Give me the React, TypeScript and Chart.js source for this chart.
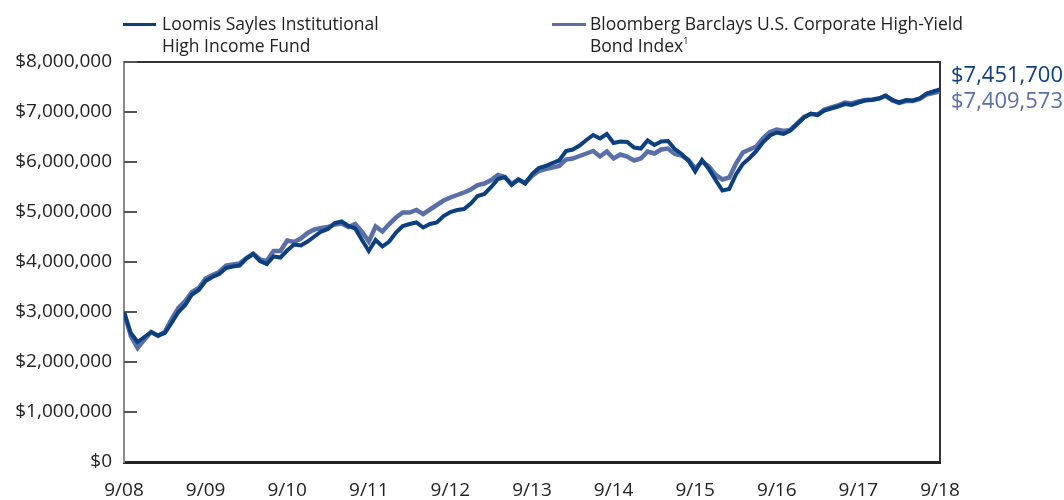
import React, { useEffect, useRef } from "react";
import { Chart, registerables } from "chart.js";

Chart.register(...registerables);

const FONT = "'Open Sans', 'Noto Sans', sans-serif";

const xTickLabels = ["9/08", "9/09", "9/10", "9/11", "9/12", "9/13", "9/14", "9/15", "9/16", "9/17", "9/18"];

const seriesNames = ["Loomis Sayles Institutional High Income Fund", "Bloomberg Barclays U.S. Corporate High-Yield Bond Index"];

const fundValues = [
  3000000, 2580000, 2400000, 2500000, 2600000, 2530000, 2580000, 2780000, 3000000, 3140000, 3350000, 3440000,
  3620000, 3700000, 3760000, 3880000, 3910000, 3930000, 4070000, 4160000, 4020000, 3960000, 4110000, 4090000,
  4230000, 4350000, 4330000, 4410000, 4510000, 4610000, 4660000, 4780000, 4810000, 4720000, 4670000, 4440000,
  4220000, 4440000, 4310000, 4410000, 4590000, 4720000, 4760000, 4790000, 4690000, 4760000, 4790000, 4920000,
  5000000, 5040000, 5060000, 5170000, 5320000, 5360000, 5500000, 5660000, 5700000, 5540000, 5650000, 5570000,
  5760000, 5880000, 5920000, 5980000, 6030000, 6220000, 6250000, 6330000, 6440000, 6540000, 6470000, 6560000,
  6380000, 6410000, 6400000, 6290000, 6270000, 6430000, 6340000, 6410000, 6420000, 6260000, 6160000, 6030000,
  5810000, 6040000, 5860000, 5640000, 5430000, 5460000, 5750000, 5960000, 6080000, 6220000, 6400000, 6530000,
  6590000, 6560000, 6630000, 6760000, 6890000, 6970000, 6940000, 7030000, 7070000, 7110000, 7160000, 7140000,
  7190000, 7230000, 7240000, 7270000, 7330000, 7240000, 7190000, 7240000, 7230000, 7270000, 7370000, 7410000,
  7451700,
];

const indexValues = [
  3000000, 2520000, 2280000, 2450000, 2600000, 2520000, 2600000, 2860000, 3080000, 3220000, 3400000, 3480000,
  3670000, 3740000, 3800000, 3930000, 3950000, 3970000, 4080000, 4170000, 4050000, 4020000, 4220000, 4220000,
  4430000, 4400000, 4470000, 4580000, 4650000, 4680000, 4700000, 4750000, 4770000, 4700000, 4760000, 4600000,
  4410000, 4710000, 4610000, 4760000, 4890000, 4990000, 4990000, 5040000, 4960000, 5050000, 5140000, 5230000,
  5290000, 5340000, 5390000, 5450000, 5540000, 5570000, 5640000, 5740000, 5700000, 5560000, 5650000, 5580000,
  5720000, 5820000, 5860000, 5890000, 5920000, 6050000, 6070000, 6120000, 6170000, 6220000, 6110000, 6210000,
  6070000, 6150000, 6110000, 6030000, 6070000, 6210000, 6170000, 6250000, 6270000, 6160000, 6130000, 6040000,
  5870000, 6010000, 5910000, 5740000, 5650000, 5690000, 5970000, 6190000, 6250000, 6310000, 6480000, 6600000,
  6650000, 6620000, 6640000, 6770000, 6900000, 6960000, 6950000, 7050000, 7090000, 7130000, 7190000, 7170000,
  7210000, 7240000, 7250000, 7270000, 7320000, 7230000, 7180000, 7220000, 7220000, 7260000, 7350000, 7380000,
  7409573,
];

const FUND_COLOR = "#0b3f7e";
const INDEX_COLOR = "#5a6ea8";

const fmtDollar = (v: number) => "$" + Math.round(v).toLocaleString("en-US");

const frameAndTicks = {
  id: "frameAndTicks",
  beforeDatasetsDraw(chart: any) {
    const { ctx, chartArea } = chart;
    const { left, right, top, bottom } = chartArea;
    ctx.save();
    ctx.strokeStyle = "#333";
    ctx.lineWidth = 2;
    ctx.beginPath();
    ctx.moveTo(left, top);
    ctx.lineTo(right, top);
    ctx.lineTo(right, bottom);
    ctx.stroke();
    const y = chart.scales.y;
    ctx.strokeStyle = "#555";
    ctx.lineWidth = 2;
    y.ticks.forEach((t: any) => {
      if (t.value === 0) return;
      const py = Math.round(y.getPixelForValue(t.value));
      ctx.beginPath();
      ctx.moveTo(left, py);
      ctx.lineTo(left + 13, py);
      ctx.stroke();
    });
    ctx.restore();
  },
};

export default function App() {
  const ref = useRef<HTMLCanvasElement | null>(null);

  useEffect(() => {
    document.body.style.margin = "0";
    if (!ref.current) return;
    const chart = new Chart(ref.current, {
      type: "line",
      data: {
        datasets: [
          {
            label: seriesNames[0],
            data: fundValues.map((v, i) => ({ x: i, y: v })),
            borderColor: FUND_COLOR,
            borderWidth: 4,
            pointRadius: 0,
            tension: 0,
            order: 0,
            borderJoinStyle: "miter",
          },
          {
            label: seriesNames[1],
            data: indexValues.map((v, i) => ({ x: i, y: v })),
            borderColor: INDEX_COLOR,
            borderWidth: 4.5,
            pointRadius: 0,
            tension: 0,
            order: 1,
            borderJoinStyle: "miter",
          },
        ],
      },
      options: {
        animation: false,
        responsive: false,
        layout: { padding: { top: 62, right: 124, left: 0, bottom: 0 } },
        plugins: { legend: { display: false }, tooltip: { enabled: false } },
        scales: {
          x: {
            type: "linear",
            min: 0,
            max: 120,
            grid: { display: false, drawTicks: false },
            border: { display: true, color: "#222", width: 3 },
            ticks: {
              stepSize: 12,
              autoSkip: false,
              maxRotation: 0,
              padding: 17,
              color: "#222",
              font: { family: FONT, size: 19 },
              callback: (v: any) => xTickLabels[Math.round(Number(v) / 12)] ?? "",
            },
            afterFit: (s: any) => {
              s.height = 38;
            },
          },
          y: {
            min: 0,
            max: 8000000,
            grid: { display: false, drawTicks: false },
            border: { display: true, color: "#8a8a8a", width: 2 },
            ticks: {
              stepSize: 1000000,
              padding: 12,
              color: "#222",
              font: { family: FONT, size: 19 },
              callback: (v: any) => fmtDollar(Number(v)),
            },
            afterFit: (s: any) => {
              s.width = 124;
            },
          },
        },
      },
      plugins: [frameAndTicks],
    });
    return () => chart.destroy();
  }, []);

  const textStyle: React.CSSProperties = {
    position: "absolute",
    fontFamily: FONT,
    fontSize: 17.5,
    lineHeight: "22px",
    color: "#222",
    whiteSpace: "nowrap",
  };

  return (
    <div style={{ position: "relative", width: 1064, height: 500, background: "#fff" }}>
      <canvas ref={ref} width={1064} height={500} style={{ display: "block" }} />
      <div style={{ position: "absolute", left: 123, top: 23, width: 33, height: 3, background: FUND_COLOR }} />
      <div style={{ ...textStyle, left: 162, top: 12 }}>
        Loomis Sayles Institutional
        <br />
        High Income Fund
      </div>
      <div style={{ position: "absolute", left: 552, top: 23, width: 34, height: 3, background: INDEX_COLOR }} />
      <div style={{ ...textStyle, left: 590, top: 12 }}>
        Bloomberg Barclays U.S. Corporate High-Yield
        <br />
        Bond Index<sup style={{ fontSize: 9, verticalAlign: "top", lineHeight: "14px" }}>1</sup>
      </div>
      <div style={{ ...textStyle, left: 951, top: 59, fontSize: 22, lineHeight: "28px", color: FUND_COLOR }}>
        {fmtDollar(fundValues[fundValues.length - 1])}
      </div>
      <div style={{ ...textStyle, left: 951, top: 85, fontSize: 22, lineHeight: "28px", color: INDEX_COLOR }}>
        {fmtDollar(indexValues[indexValues.length - 1])}
      </div>
    </div>
  );
}
